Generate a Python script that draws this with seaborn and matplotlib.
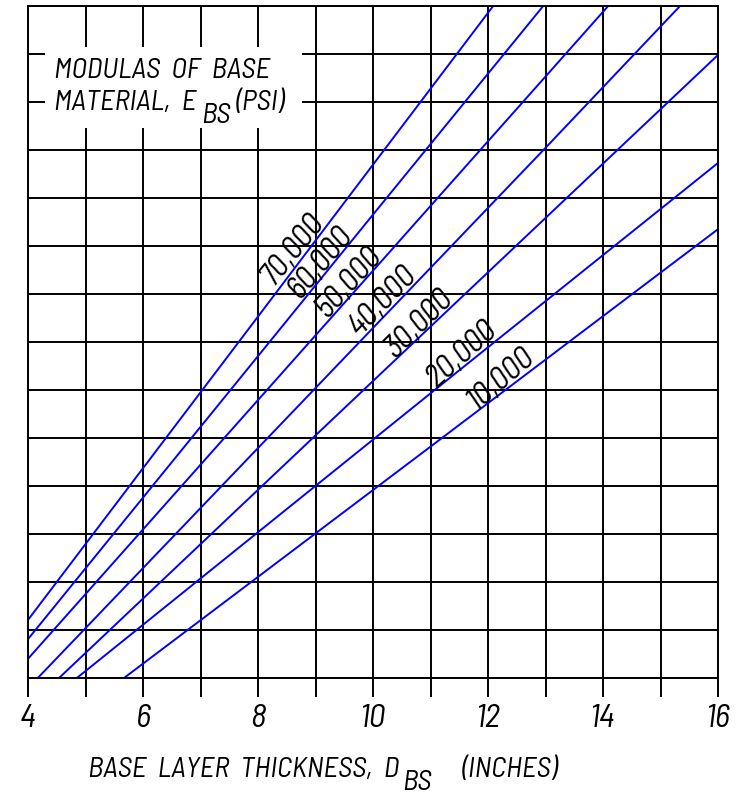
import pandas as pd
import seaborn as sns
import matplotlib.pyplot as plt
from matplotlib.patches import Rectangle

# modulus of base material (psi), one straight line each
moduli = ['70,000', '60,000', '50,000', '40,000', '30,000', '20,000', '10,000']

# points (base layer thickness, inches)
thickness = [
    [4.0, 8.0, 12.09],
    [4.0, 9.95, 12.96],
    [4.0, 10.33, 14.09],
    [4.17, 13.02, 15.34],
    [4.54, 11.0, 16.0],
    [4.85, 11.0, 16.0],
    [5.67, 11.0, 16.0],
]
# chart value (unlabelled vertical scale, grid units)
chart_value = [
    [1.21, 7.53, 14.0],
    [0.81, 9.58, 14.0],
    [0.40, 8.93, 14.0],
    [0.0, 11.07, 14.0],
    [0.0, 7.32, 12.98],
    [0.0, 5.93, 10.73],
    [0.0, 4.82, 9.35],
]

# where the line labels sit
label_x = [8.61, 9.09, 9.58, 10.18, 10.80, 11.55, 12.22]
label_y = [8.93, 8.64, 8.24, 7.86, 7.39, 6.73, 6.23]
label_rot = [51, 50, 48, 46, 45, 42, 41]

x_ticks = list(range(4, 17))
x_ticklabels = [str(t) if t % 2 == 0 else '' for t in x_ticks]

rows = []
for m, xs, ys in zip(moduli, thickness, chart_value):
    for x, y in zip(xs, ys):
        rows.append({'modulus': m, 'thickness': x, 'value': y})
df = pd.DataFrame(rows)

sns.set_theme(style='white', rc={'text.color': 'black', 'xtick.color': 'black'})
plt.rcParams['font.family'] = ['Barlow Semi Condensed', 'DejaVu Sans']
plt.rcParams['font.style'] = 'italic'

fig = plt.figure(figsize=(7.38, 7.96), dpi=100)
ax = fig.add_axes([28 / 738, 1 - 678 / 796, 690 / 738, 672 / 796])

sns.lineplot(data=df, x='thickness', y='value', hue='modulus', hue_order=moduli,
             palette=['#0000ff'] * len(moduli), linewidth=1.4, legend=False, ax=ax)

ax.set_xlim(4, 16)
ax.set_ylim(0, 14)
ax.set_xticks(x_ticks)
ax.set_xticklabels(x_ticklabels, fontsize=24, fontstyle='italic')
ax.set_yticks(range(0, 15))
ax.set_yticklabels([])
ax.tick_params(axis='x', bottom=True, direction='out', length=13.7, width=1.4, pad=5)
ax.tick_params(axis='y', left=False, length=0)
ax.set_axisbelow(True)
ax.grid(True, color='black', linewidth=1.4)
for s in ax.spines.values():
    s.set_color('black')
    s.set_linewidth(1.4)
ax.set_xlabel('')
ax.set_ylabel('')

# white box behind the legend title
ax.add_patch(Rectangle((4.296, 11.46), 4.47, 1.69, facecolor='white', edgecolor='none', zorder=1))
ax.text(4.45, 12.5, 'MODULAS  OF  BASE', fontsize=21, va='baseline', ha='left')
t = ax.text(4.45, 11.83, 'MATERIAL,  E', fontsize=21, va='baseline', ha='left')
sub = ax.annotate('BS', xy=(1, 0), xycoords=t, xytext=(3.5, -9), textcoords='offset points',
                  fontsize=21, va='bottom', ha='left')
ax.annotate('(PSI)', xy=(1, 0), xycoords=sub, xytext=(4, 9), textcoords='offset points',
            fontsize=21, va='bottom', ha='left')

for m, lx, ly, r in zip(moduli, label_x, label_y, label_rot):
    ax.text(lx, ly, m, fontsize=23, rotation=r, rotation_mode='anchor',
            ha='center', va='center', zorder=3)

# axis title with subscript
xl = fig.text(88 / 738, 1 - 777 / 796, 'BASE  LAYER  THICKNESS,  D', fontsize=21,
              ha='left', va='baseline')
xsub = ax.annotate('BS', xy=(1, 0), xycoords=xl, xytext=(2, -9), textcoords='offset points',
                   fontsize=21, va='bottom', ha='left', annotation_clip=False)
ax.annotate('(INCHES)', xy=(1, 0), xycoords=xsub, xytext=(22, 9), textcoords='offset points',
            fontsize=21, va='bottom', ha='left', annotation_clip=False)

fig.savefig('out.png', dpi=100)
